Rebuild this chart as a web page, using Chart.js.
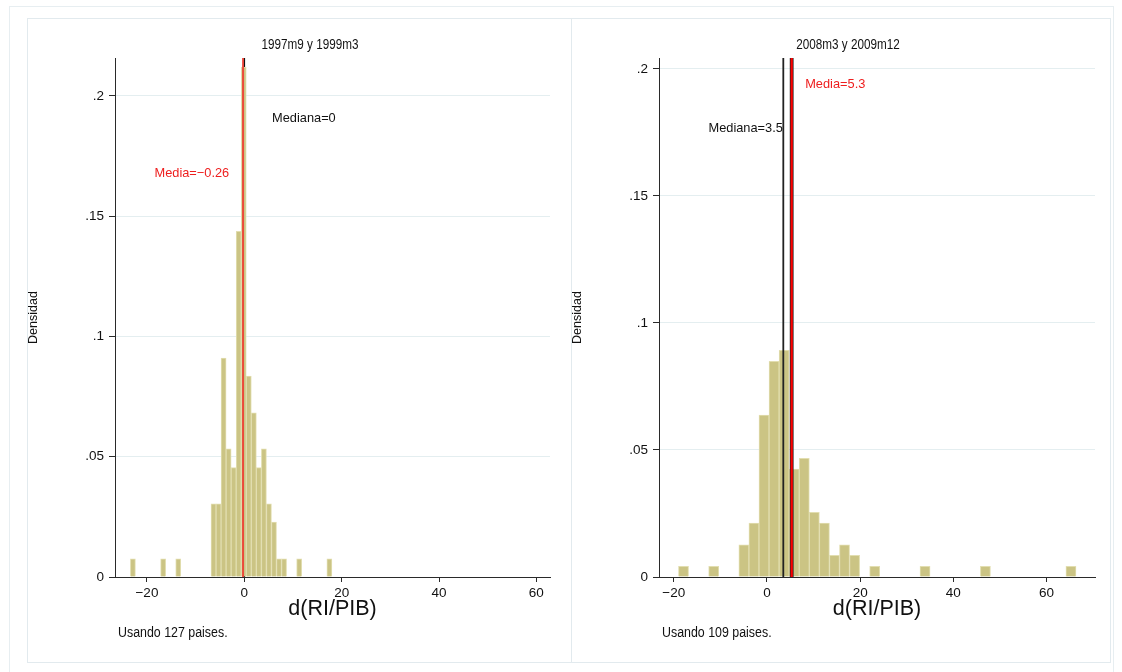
<!DOCTYPE html>
<html>
<head>
<meta charset="utf-8">
<script src="https://cdn.jsdelivr.net/npm/chart.js@4.4.1/dist/chart.umd.min.js"></script>
<style>
  html, body { margin: 0; padding: 0; background: #ffffff; width: 1122px; height: 672px; overflow: hidden; }
  #outer { position: absolute; left: 9px; top: 6px; width: 1103px; height: 720px; border: 1px solid #e7eef1; }
  #inner { position: absolute; left: 27px; top: 18px; width: 1082px; height: 643px; border: 1px solid #e2eaee; }
  #divider { position: absolute; left: 571px; top: 18px; width: 1px; height: 644px; background: #e2eaee; }
  #w1 { position: absolute; left: 27px; top: 18px; width: 544px; height: 644px; }
  #w2 { position: absolute; left: 571px; top: 18px; width: 539px; height: 644px; }
</style>
</head>
<body>
<div id="outer"></div>
<div id="inner"></div>
<div id="divider"></div>
<div id="w1"><canvas id="c1" width="544" height="644"></canvas></div>
<div id="w2"><canvas id="c2" width="539" height="644"></canvas></div>
<script>
// ---------- DATA ----------
// Left panel: 1997m9 y 1999m3 — histogram bin centres (non-empty bins) and densities
const leftBinCenters = [-22.883, -16.673, -13.568, -6.323, -5.288, -4.253, -3.218, -2.183, -1.148, -0.113,
                        0.923, 1.958, 2.993, 4.028, 5.063, 6.098, 7.133, 8.168, 11.273, 17.483];
const leftDensity    = [0.0076, 0.0076, 0.0076, 0.0304, 0.0304, 0.0910, 0.0533, 0.0455, 0.1437, 0.2120,
                        0.0835, 0.0683, 0.0455, 0.0533, 0.0304, 0.0228, 0.0076, 0.0076, 0.0076, 0.0076];
// Right panel: 2008m3 y 2009m12
const rightBinCenters = [-17.92, -11.44, -4.96, -2.80, -0.64, 1.52, 3.68, 5.84, 8.00, 10.16,
                         12.32, 14.48, 16.64, 18.80, 23.12, 33.92, 46.88, 65.24];
const rightDensity    = [0.0042, 0.0042, 0.0127, 0.0212, 0.0637, 0.0849, 0.0892, 0.0425, 0.0467, 0.0255,
                         0.0212, 0.0085, 0.0127, 0.0085, 0.0042, 0.0042, 0.0042, 0.0042];
const leftMedian = 0, leftMean = -0.26;
const rightMedian = 3.5, rightMean = 5.3;
const xTickValues = [-20, 0, 20, 40, 60];
const yTickValues = [0, 0.05, 0.1, 0.15, 0.2];
const panelTitles = ['1997m9 y 1999m3', '2008m3 y 2009m12'];
const panelNotes = ['Usando 127 paises.', 'Usando 109 paises.'];
const xAxisTitle = 'd(RI/PIB)';
const yAxisTitle = 'Densidad';

// ---------- STYLE ----------
const FONT = "'Liberation Sans', Arial, Helvetica, sans-serif";
const BAR_FILL = 'rgb(203,196,132)';
const BAR_EDGE = 'rgb(226,222,176)';
const AXIS = '#2a2a2a';
const GRID = '#e4eef0';

function fmtY(v) {
  if (Math.abs(v) < 1e-9) return '0';
  return String(+v.toFixed(3)).replace(/^0\./, '.');
}
function fmtX(v) {
  return v < 0 ? '\u2212' + Math.abs(v) : String(v);
}
function condensedText(ctx, text, x, y, size, sx, align, color) {
  ctx.save();
  ctx.translate(x, y);
  ctx.scale(sx, 1);
  ctx.font = size + 'px ' + FONT;
  ctx.fillStyle = color;
  ctx.textAlign = align;
  ctx.textBaseline = 'middle';
  ctx.fillText(text, 0, 0);
  ctx.restore();
}

const overlay = {
  id: 'overlay',
  drawLines(chart, opts, layer) {
    const { ctx, chartArea } = chart;
    const xs = chart.scales.x;
    (opts.lines || []).forEach(l => {
      if (l.layer !== layer) return;
      const px = xs.getPixelForValue(l.value);
      ctx.save();
      if (l.edge) {
        ctx.strokeStyle = l.edge;
        ctx.lineWidth = l.edgeWidth;
        ctx.beginPath(); ctx.moveTo(px, chartArea.top); ctx.lineTo(px, chartArea.bottom); ctx.stroke();
      }
      ctx.strokeStyle = l.color;
      ctx.lineWidth = l.width;
      ctx.beginPath(); ctx.moveTo(px, chartArea.top); ctx.lineTo(px, chartArea.bottom); ctx.stroke();
      ctx.restore();
    });
  },
  beforeDatasetsDraw(chart, args, opts) { this.drawLines(chart, opts, 'below'); },
  afterDatasetsDraw(chart, args, opts) {
    this.drawLines(chart, opts, 'above');
    const { ctx } = chart;
    const xs = chart.scales.x, ys = chart.scales.y;
    (opts.labels || []).forEach(t => {
      ctx.save();
      ctx.font = '12.8px ' + FONT;
      ctx.fillStyle = t.color;
      ctx.textAlign = t.align;
      ctx.textBaseline = 'middle';
      ctx.fillText(t.text, xs.getPixelForValue(t.x), ys.getPixelForValue(t.y));
      ctx.restore();
    });
  },
  afterDraw(chart, args, opts) {
    const { ctx, chartArea } = chart;
    condensedText(ctx, opts.title, opts.titleX, 27, 15, 0.78, 'center', '#111');
    condensedText(ctx, opts.note, chartArea.left + 3, 615, 15.5, 0.8, 'left', '#111');
  }
};

function makeChart(id, centers, density, yMax, xMin, xMax, padRight, ov) {
  return new Chart(document.getElementById(id), {
    type: 'bar',
    data: {
      datasets: [{
        data: centers.map((c, i) => ({ x: c, y: density[i] })),
        backgroundColor: BAR_FILL,
        borderColor: BAR_EDGE,
        borderWidth: 1,
        barPercentage: 1.0,
        categoryPercentage: 1.0
      }]
    },
    options: {
      responsive: false,
      animation: false,
      layout: { padding: { top: 40, right: padRight, bottom: 0, left: 0 } },
      plugins: { legend: { display: false }, tooltip: { enabled: false }, title: { display: false }, overlay: ov },
      scales: {
        x: {
          type: 'linear', min: xMin, max: xMax, offset: false,
          afterBuildTicks: s => { s.ticks = xTickValues.map(v => ({ value: v })); },
          afterFit: s => { s.height = 85; },
          grid: { display: true, offset: false, drawOnChartArea: false, drawTicks: true, tickLength: 5, tickColor: AXIS, tickWidth: 1 },
          border: { display: true, color: AXIS, width: 1 },
          ticks: { color: '#111', font: { family: FONT, size: 13.5 }, padding: 3, maxRotation: 0, callback: v => fmtX(v) },
          title: { display: true, text: xAxisTitle, color: '#111', font: { family: FONT, size: 21.5, lineHeight: 1 }, padding: { top: 42, bottom: 42 } }
        },
        y: {
          type: 'linear', min: 0, max: yMax,
          afterBuildTicks: s => { s.ticks = yTickValues.map(v => ({ value: v })); },
          afterFit: s => { s.width = 88; },
          grid: { display: true, drawOnChartArea: true, color: c => (c.tick && c.tick.value === 0 ? 'rgba(0,0,0,0)' : GRID), drawTicks: true, tickLength: 6, tickColor: AXIS, tickWidth: 1 },
          border: { display: true, color: AXIS, width: 1 },
          ticks: { color: '#111', font: { family: FONT, size: 13.5 }, padding: 5, callback: v => fmtY(v) },
          title: { display: true, text: yAxisTitle, color: '#111', font: { family: FONT, size: 12.5, lineHeight: 1 }, padding: { top: 0, bottom: 0 } }
        }
      }
    },
    plugins: [overlay]
  });
}

makeChart('c1', leftBinCenters, leftDensity, 0.2158, -26.56, 62.8, 21, {
  lines: [
    { value: leftMedian, color: '#111', width: 1.6, layer: 'below' },
    { value: leftMean, color: 'rgb(238,64,52)', width: 1.8, layer: 'above' }
  ],
  labels: [
    { text: 'Mediana=' + leftMedian, x: 5.7, y: 0.1908, color: '#111', align: 'left' },
    { text: 'Media=\u22120.26', x: -3.1, y: 0.1676, color: 'rgb(238,30,30)', align: 'right' }
  ],
  title: panelTitles[0], titleX: 283, note: panelNotes[0]
});

makeChart('c2', rightBinCenters, rightDensity, 0.2043, -23.18, 70.4, 15, {
  lines: [
    { value: rightMedian, color: '#222', width: 1.8, layer: 'above' },
    { value: rightMean, color: 'rgb(255,0,0)', width: 2.2, edge: '#222', edgeWidth: 3.8, layer: 'above' }
  ],
  labels: [
    { text: 'Mediana=' + rightMedian, x: 3.4, y: 0.1764, color: '#111', align: 'right' },
    { text: 'Media=' + rightMean, x: 8.2, y: 0.194, color: 'rgb(238,30,30)', align: 'left' }
  ],
  title: panelTitles[1], titleX: 277, note: panelNotes[1]
});
</script>
</body>
</html>
